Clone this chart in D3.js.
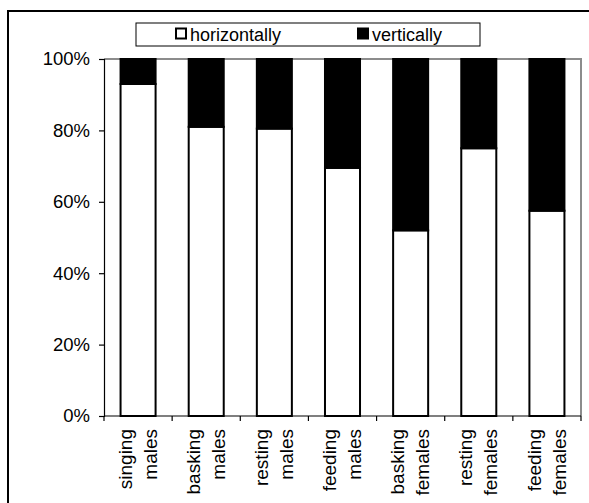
<!DOCTYPE html>
<html>
<head>
<meta charset="utf-8">
<script src="https://cdn.jsdelivr.net/npm/d3@7"></script>
<style>
  html, body { margin: 0; padding: 0; background: #fff; }
  svg { display: block; }
  text { font-family: "Liberation Sans", Arial, sans-serif; fill: #000; }
</style>
</head>
<body>
<svg id="chart" width="589" height="503"></svg>
<script>
// Behaviour categories (two-line labels)
const categories = [
  ["singing", "males"],
  ["basking", "males"],
  ["resting", "males"],
  ["feeding", "males"],
  ["basking", "females"],
  ["resting", "females"],
  ["feeding", "females"]
];
// Share of observations oriented horizontally (the rest are vertical)
const horizontalShare = [0.93, 0.81, 0.805, 0.695, 0.52, 0.75, 0.575];
const seriesNames = ["horizontally", "vertically"];
const yTicks = [0, 0.2, 0.4, 0.6, 0.8, 1.0];

const svg = d3.select("#chart");

// outer frame
svg.append("rect")
  .attr("x", 8).attr("y", 11)
  .attr("width", 600).attr("height", 520)
  .attr("fill", "none").attr("stroke", "#000").attr("stroke-width", 2);

const plot = { left: 104, right: 581, top: 59, bottom: 416 };
const keys = categories.map(c => c.join(" "));

const x = d3.scaleBand()
  .domain(keys)
  .range([plot.left, plot.right])
  .paddingInner(0.486)
  .paddingOuter(0.243);

const y = d3.scaleLinear().domain([0, 1]).range([plot.bottom, plot.top]);

// stacked data
const rows = keys.map((k, i) => ({ key: k, horizontally: horizontalShare[i], vertically: 1 - horizontalShare[i] }));
const stack = d3.stack().keys(seriesNames)(rows);
const fills = { horizontally: "#fff", vertically: "#000" };

// plot-area border (top and right)
svg.append("path")
  .attr("d", `M${plot.left},${plot.top}H${plot.right}V${plot.bottom}`)
  .attr("fill", "none").attr("stroke", "#8c8c8c").attr("stroke-width", 2);

// bars
svg.append("g").selectAll("g")
  .data(stack).join("g")
  .attr("fill", d => fills[d.key])
  .selectAll("rect")
  .data(d => d).join("rect")
  .attr("x", d => x(d.data.key))
  .attr("width", x.bandwidth())
  .attr("y", d => y(d[1]))
  .attr("height", d => y(d[0]) - y(d[1]))
  .attr("stroke", "#000").attr("stroke-width", 2);

// y axis
const yAxis = d3.axisLeft(y)
  .tickValues(yTicks)
  .tickFormat(d3.format(".0%"))
  .tickSize(5)
  .tickPadding(9);
const gy = svg.append("g").attr("transform", `translate(${plot.left},0)`).call(yAxis);
gy.select(".domain").attr("stroke", "#000").attr("stroke-width", 1.2);
gy.selectAll(".tick line").attr("stroke", "#000").attr("stroke-width", 1.2);
gy.selectAll(".tick text")
  .attr("font-size", 18.5)
  .style("font-family", '"Liberation Sans", Arial, sans-serif');

// x axis: ticks between categories
const boundaries = d3.range(keys.length + 1).map(i => plot.left + i * x.step());
const gx = svg.append("g");
gx.append("line")
  .attr("x1", plot.left).attr("x2", plot.right)
  .attr("y1", plot.bottom).attr("y2", plot.bottom)
  .attr("stroke", "#000").attr("stroke-width", 1.2);
gx.selectAll("line.tk").data(boundaries).join("line")
  .attr("class", "tk")
  .attr("x1", d => d).attr("x2", d => d)
  .attr("y1", plot.bottom).attr("y2", plot.bottom + 5)
  .attr("stroke", "#000").attr("stroke-width", 1.2);

// rotated two-line category labels
const labels = svg.append("g").selectAll("g")
  .data(categories).join("g")
  .attr("transform", (d, i) => `translate(${x(keys[i]) + x.bandwidth() / 2},429) rotate(-90)`);
labels.each(function(d) {
  const g = d3.select(this);
  d.forEach((line, j) => {
    g.append("text")
      .attr("x", 0)
      .attr("y", j === 0 ? -13 : 12)
      .attr("dy", "0.35em")
      .attr("text-anchor", "end")
      .attr("font-size", 19)
      .text(line);
  });
});

// legend
const legend = svg.append("g");
legend.append("rect")
  .attr("x", 136).attr("y", 23).attr("width", 344).attr("height", 23)
  .attr("fill", "#fff").attr("stroke", "#000").attr("stroke-width", 1);
const legendPos = [176, 358];
seriesNames.forEach((name, i) => {
  legend.append("rect")
    .attr("x", legendPos[i]).attr("y", 28.5)
    .attr("width", 10).attr("height", 10)
    .attr("fill", fills[name]).attr("stroke", "#000").attr("stroke-width", 2);
  legend.append("text")
    .attr("x", legendPos[i] + 14).attr("y", 41)
    .attr("font-size", 18)
    .text(name);
});
</script>
</body>
</html>
